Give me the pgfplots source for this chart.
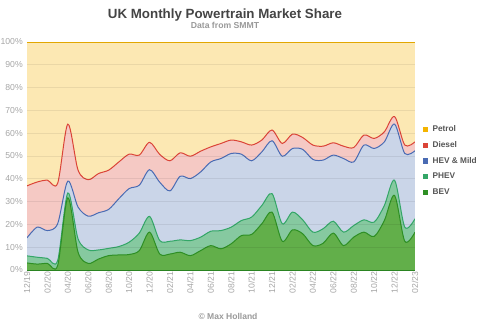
\documentclass[border=0pt]{standalone}
\usepackage{pgfplots}
\pgfplotsset{compat=1.18}
\usepackage{pgfplotstable}
\usepackage{fontspec}
\setmainfont{Liberation Sans}

\definecolor{petrolbg}{HTML}{FCE8B3}
\definecolor{petrolc}{HTML}{F4B400}
\definecolor{dieselbg}{HTML}{F5C9C4}
\definecolor{dieselc}{HTML}{DB4437}
\definecolor{hevbg}{HTML}{CAD5E8}
\definecolor{hevc}{HTML}{4A6BB3}
\definecolor{phevbg}{HTML}{86C9A0}
\definecolor{phevc}{HTML}{33A667}
\definecolor{bevbg}{HTML}{62AF4A}
\definecolor{bevc}{HTML}{2E8F24}
\definecolor{ticktext}{HTML}{A6A6A6}
\definecolor{titletext}{HTML}{444444}
\definecolor{subtext}{HTML}{999999}
\definecolor{legtext}{HTML}{555555}

% cumulative market share (top of each stacked band), months 12/19 .. 02/23
\pgfplotstableread{
x bev phev hev diesel
0 3.1 6.2 14.1 36.9
1 2.6 5.6 18.8 38.6
2 2.9 5.1 17.3 39.4
3 1.9 4.1 20.3 38.0
4 31.7 33.8 39.0 64.0
5 7.8 13.7 27.6 43.8
6 2.9 8.8 23.6 39.6
7 4.8 8.8 25.1 42.3
8 6.3 9.5 26.6 43.8
9 6.6 10.3 31.3 47.4
10 6.8 12.2 35.7 50.8
11 8.5 16.2 37.2 50.4
12 16.6 23.5 44.0 56.0
13 7.0 12.9 38.5 50.7
14 7.0 12.6 34.7 47.9
15 7.8 13.2 41.1 51.4
16 6.3 12.9 40.1 49.9
17 8.5 14.4 43.0 52.1
18 10.7 17.0 47.4 54.0
19 9.3 17.3 48.9 55.5
20 11.5 18.8 51.1 57.0
21 15.1 21.7 50.8 56.2
22 15.6 23.2 47.9 54.8
23 20.3 28.3 51.8 57.0
24 25.4 33.5 56.7 61.4
25 12.6 20.3 49.9 55.5
26 17.6 25.4 53.3 59.6
27 15.9 22.0 52.9 58.1
28 10.7 16.6 48.5 54.8
29 11.7 18.1 48.2 54.3
30 16.2 21.4 50.4 55.8
31 10.7 16.6 48.9 54.3
32 14.4 19.5 47.4 53.7
33 16.6 22.0 54.8 59.2
34 14.7 21.0 53.3 57.7
35 21.7 28.3 56.2 60.6
36 32.7 39.4 64.0 67.3
37 12.6 18.8 51.1 54.8
38 16.6 22.5 52.3 56.2
}\share

\begin{document}
\begin{tikzpicture}[x=1pt,y=1pt]
\path[use as bounding box] (0,0) rectangle (360,247.5);
\begin{axis}[
  at={(20.25pt,45pt)}, anchor=south west,
  scale only axis, width=291pt, height=171pt,
  xmin=0, xmax=38, ymin=0, ymax=100,
  axis on top,
  axis background/.style={fill=petrolbg},
  axis line style={draw=none},
  tick style={draw=none},
  ytick={0,10,...,100},
  yticklabels={0\%,10\%,20\%,30\%,40\%,50\%,60\%,70\%,80\%,90\%,100\%},
  ymajorgrids,
  grid style={black, opacity=0.07, line width=0.6pt},
  xtick={0,2,...,38},
  xticklabels={12/19,02/20,04/20,06/20,08/20,10/20,12/20,02/21,04/21,06/21,08/21,10/21,12/21,02/22,04/22,06/22,08/22,10/22,12/22,02/23},
  xticklabel style={rotate=90, anchor=east, font=\fontsize{6.5}{7}\selectfont, text=ticktext, inner sep=1pt, yshift=0pt},
  yticklabel style={font=\fontsize{6.5}{7}\selectfont, text=ticktext, inner sep=1pt, xshift=-2pt},
  legend image code/.code={\path[draw=none, fill=none] (0pt,0pt) -- (6pt,0pt); \fill[#1, draw=none] (0pt,-1.9pt) rectangle (3.8pt,1.9pt);},
  legend style={at={(1,0.478)}, anchor=west, xshift=3pt, draw=none, fill=none,
    font=\fontsize{6.2}{7}\selectfont\bfseries, text=legtext, row sep=4.1pt,
    nodes={inner sep=1pt, text height=4.5pt, text depth=1.2pt}},
  legend cell align=left,
]
\addplot[draw=none, fill=dieselbg, smooth, forget plot] table[x=x, y=diesel] {\share} \closedcycle;
\addplot[draw=none, fill=hevbg, smooth, forget plot] table[x=x, y=hev] {\share} \closedcycle;
\addplot[draw=none, fill=phevbg, smooth, forget plot] table[x=x, y=phev] {\share} \closedcycle;
\addplot[draw=none, fill=bevbg, smooth, forget plot] table[x=x, y=bev] {\share} \closedcycle;
\addplot[petrolc, line width=0.8pt, forget plot] coordinates {(0,100) (38,100)};
\addplot[dieselc, line width=0.75pt, smooth, forget plot] table[x=x, y=diesel] {\share};
\addplot[hevc, line width=0.75pt, smooth, forget plot] table[x=x, y=hev] {\share};
\addplot[phevc, line width=0.75pt, smooth, forget plot] table[x=x, y=phev] {\share};
\addplot[bevc, line width=0.75pt, smooth, forget plot] table[x=x, y=bev] {\share};
\addplot[bevc, line width=0.75pt, forget plot] coordinates {(0,0) (38,0)};
\addlegendimage{draw=none, fill=petrolc}
\addlegendentry{Petrol}
\addlegendimage{draw=none, fill=dieselc}
\addlegendentry{Diesel}
\addlegendimage{draw=none, fill=hevc}
\addlegendentry{HEV \& Mild}
\addlegendimage{draw=none, fill=phevc}
\addlegendentry{PHEV}
\addlegendimage{draw=none, fill=bevc}
\addlegendentry{BEV}
\end{axis}
\node[anchor=base, font=\fontsize{10}{12}\selectfont\bfseries, text=titletext] at (168.75,234) {UK Monthly Powertrain Market Share};
\node[anchor=base, font=\fontsize{6.5}{8}\selectfont\bfseries, text=subtext] at (168.75,226) {Data from SMMT};
\node[anchor=base, font=\fontsize{6.4}{8}\selectfont\bfseries, text=subtext] at (171,8.25) {© Max Holland};
\end{tikzpicture}
\end{document}
